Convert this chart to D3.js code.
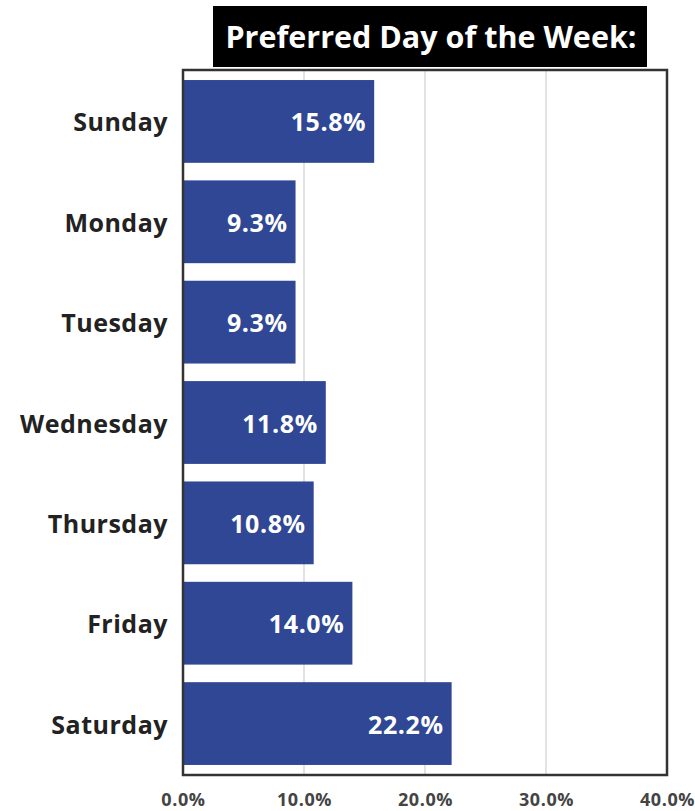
<!DOCTYPE html>
<html><head><meta charset="utf-8">
<script src="https://cdn.jsdelivr.net/npm/d3@7"></script>
<style>body{margin:0;background:#fff}svg{display:block}</style>
</head><body>
<script>
const days = ["Sunday","Monday","Tuesday","Wednesday","Thursday","Friday","Saturday"];
const shares = [15.8, 9.3, 9.3, 11.8, 10.8, 14.0, 22.2];
const tickValues = [0, 10, 20, 30, 40];
const titleText = "Preferred Day of the Week:";

const W = 695, H = 811;
const svg = d3.select("body").append("svg").attr("width", W).attr("height", H);
const font = "'Open Sans', sans-serif";

const x = d3.scaleLinear().domain([0, 40]).range([183, 667]);
const y = d3.scaleBand().domain(days).range([70, 775]).paddingInner(0.175).paddingOuter(0.1);

// title
svg.append("rect").attr("x", 213).attr("y", 6).attr("width", 434).attr("height", 61).attr("fill", "#000");
svg.append("text").attr("x", 431).attr("y", 48).attr("text-anchor", "middle")
  .attr("font-family", font).attr("font-weight", 700).attr("font-size", 30.5)
  .attr("fill", "#fff").text(titleText);

// gridlines
svg.append("g").selectAll("line").data(tickValues.slice(1, -1)).join("line")
  .attr("x1", d => x(d)).attr("x2", d => x(d)).attr("y1", 70).attr("y2", 775)
  .attr("stroke", "#d9d9d9").attr("stroke-width", 1.5);

// bars
svg.append("g").selectAll("rect").data(days).join("rect")
  .attr("x", x(0)).attr("y", d => y(d))
  .attr("width", (d, i) => x(shares[i]) - x(0)).attr("height", y.bandwidth())
  .attr("fill", "#2F4794");

// value labels
svg.append("g").selectAll("text").data(days).join("text")
  .attr("x", (d, i) => x(shares[i]) - 8).attr("y", d => y(d) + y.bandwidth() / 2 + 10)
  .attr("text-anchor", "end").attr("font-family", font).attr("font-weight", 700)
  .attr("font-size", 25).attr("letter-spacing", 0.6).attr("fill", "#fff")
  .text((d, i) => shares[i].toFixed(1) + "%");

// border
svg.append("rect").attr("x", 183).attr("y", 70).attr("width", 484).attr("height", 705)
  .attr("fill", "none").attr("stroke", "#333").attr("stroke-width", 2.5);

// y axis labels
const yAxis = d3.axisLeft(y).tickSize(0).tickPadding(15);
const gy = svg.append("g").attr("transform", "translate(183,2)").call(yAxis);
gy.select(".domain").remove();
gy.selectAll("text").attr("font-family", font).attr("font-weight", 700)
  .attr("font-size", 25).attr("letter-spacing", 0.5).attr("fill", "#222");

// x axis labels
const xAxis = d3.axisBottom(x).tickValues(tickValues).tickSize(0).tickPadding(18)
  .tickFormat(d => d.toFixed(1) + "%");
const gx = svg.append("g").attr("transform", "translate(0,775)").call(xAxis);
gx.select(".domain").remove();
gx.selectAll("text").attr("font-family", font).attr("font-weight", 700)
  .attr("font-size", 18).attr("letter-spacing", 0.6).attr("fill", "#444");
</script>
</body></html>
